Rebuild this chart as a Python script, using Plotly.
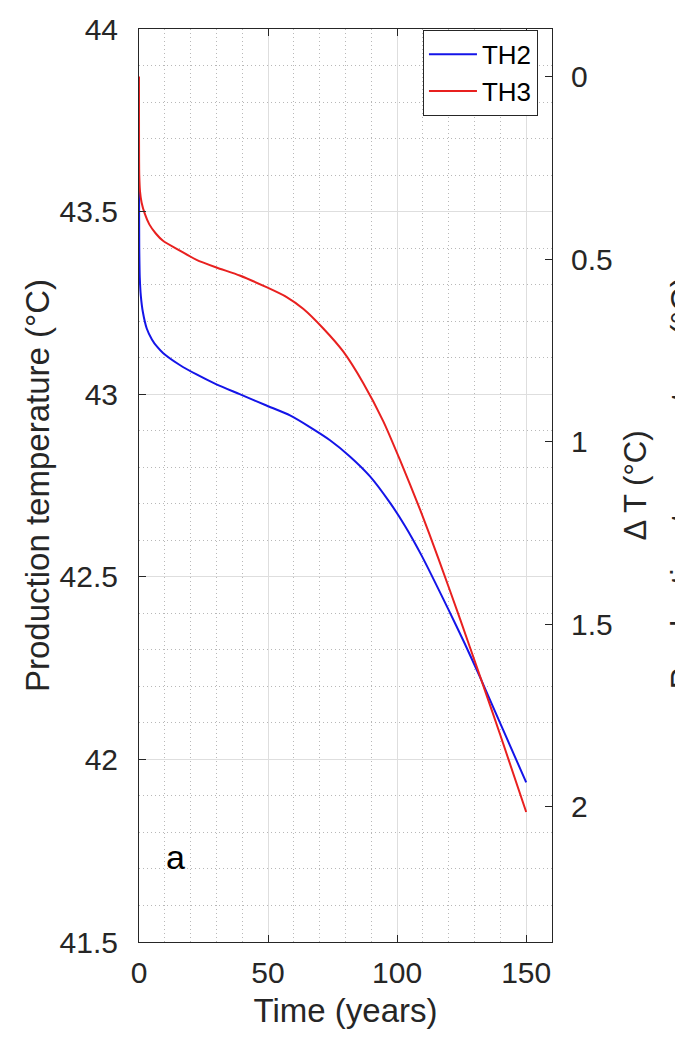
import plotly.graph_objects as go

# Production temperature at the well, two model variants (time in years, T in °C)
time_th2 = [0, 0.1, 0.3, 0.7, 1.5, 3, 5, 7, 9.3, 15.8, 22.3, 30, 39, 49.4,
            58.5, 66.2, 74, 81.8, 89.5, 97.2, 103, 109.5, 119.9, 126, 132.2,
            140, 150]
temp_th2 = [43.575, 43.40, 43.32, 43.27, 43.225, 43.18, 43.15, 43.13, 43.113,
            43.08, 43.054, 43.027, 43.0, 42.969, 42.942, 42.910, 42.874,
            42.829, 42.775, 42.703, 42.64, 42.558, 42.41, 42.32, 42.224,
            42.098, 41.937]

time_th3 = [0, 0.1, 0.4, 1, 2.2, 4, 6.5, 9.3, 15.8, 22.3, 30, 39, 49.4, 57.2,
            63.6, 71.4, 79.1, 86.9, 94.7, 101.1, 108.9, 116, 124.4, 132.2,
            140, 150]
temp_th3 = [43.87, 43.60, 43.555, 43.525, 43.495, 43.465, 43.44, 43.42,
            43.393, 43.368, 43.347, 43.325, 43.293, 43.266, 43.234, 43.180,
            43.117, 43.030, 42.925, 42.82, 42.684, 42.55, 42.384, 42.226,
            42.066, 41.856]

# Reference temperature for the temperature-drop axis (ΔT = T_ref - T)
T_REF = 43.87
T_MIN, T_MAX = 41.5, 44.0
DT_TICKS = [0, 0.5, 1, 1.5, 2]

FONT = "Liberation Sans, Arial, Helvetica, sans-serif"
INK = "#262626"
GRID_MAJOR = "#dedede"
GRID_MINOR = "#b8b8b8"

fig = go.Figure()
fig.add_trace(go.Scatter(x=time_th2, y=temp_th2, mode="lines", name="TH2",
                         line=dict(color="#1414e8", width=2, shape="spline",
                                   smoothing=0.6)))
fig.add_trace(go.Scatter(x=time_th3, y=temp_th3, mode="lines", name="TH3",
                         line=dict(color="#e8201f", width=2, shape="spline",
                                   smoothing=0.6)))
# Temperature drop of TH3 on the right-hand scale (coincides with the TH3 curve)
fig.add_trace(go.Scatter(x=time_th3, y=[T_REF - t for t in temp_th3],
                         yaxis="y2", mode="lines", showlegend=False,
                         hoverinfo="skip", opacity=0,
                         line=dict(color="#e8201f", width=0)))

fig.update_layout(
    width=675, height=1039,
    margin=dict(l=139.3, r=123, t=16.7, b=97.3, pad=0),
    paper_bgcolor="white", plot_bgcolor="white",
    font=dict(family=FONT, color=INK),
    showlegend=True,
    legend=dict(x=0.966, y=0.999, xanchor="right", yanchor="top",
                bgcolor="white", bordercolor=INK, borderwidth=1,
                font=dict(size=26, color="black"), tracegroupgap=0,
                itemwidth=48),
    xaxis=dict(
        range=[0, 160], tickvals=[0, 50, 100, 150], ticks="inside",
        ticklen=7, tickcolor=INK, tickwidth=1,
        showline=True, linecolor=INK, linewidth=1, mirror="ticks",
        showgrid=True, gridcolor=GRID_MAJOR, gridwidth=1, zeroline=False,
        minor=dict(dtick=10, tick0=0, showgrid=True, gridcolor=GRID_MINOR,
                   griddash="1px,3px", gridwidth=1),
        tickfont=dict(size=30, color=INK), ticklabelstandoff=4,
        title=dict(text="Time (years)", font=dict(size=33, color=INK),
                   standoff=10),
    ),
    yaxis=dict(
        range=[T_MIN, T_MAX], dtick=0.5, tick0=41.5, ticks="inside",
        ticklen=7, tickcolor=INK, tickwidth=1,
        showline=True, linecolor=INK, linewidth=1, mirror=True,
        showgrid=True, gridcolor=GRID_MAJOR, gridwidth=1, zeroline=False,
        minor=dict(dtick=0.1, tick0=41.5, showgrid=True, gridcolor=GRID_MINOR,
                   griddash="1px,3px", gridwidth=1),
        tickfont=dict(size=30, color=INK), ticklabelstandoff=14,
        title=dict(text="Production temperature (°C)",
                   font=dict(size=33, color=INK), standoff=0),
    ),
    yaxis2=dict(
        overlaying="y", side="right", anchor="x",
        range=[T_REF - T_MIN, T_REF - T_MAX], tickvals=DT_TICKS,
        ticktext=["0", "0.5", "1", "1.5", "2"],
        ticks="inside", ticklen=7, tickcolor=INK, tickwidth=1,
        showline=True, linecolor=INK, linewidth=1, showgrid=False,
        zeroline=False, tickfont=dict(size=30, color=INK),
        ticklabelstandoff=12,
        title=dict(text="Δ T (°C)", font=dict(size=31, color=INK),
                   standoff=12),
    ),
)

# Panel letter
fig.add_annotation(x=14.2, y=41.734, xref="x", yref="y", text="a",
                   showarrow=False, font=dict(size=34, color="black"))

# Left axis label of the neighbouring panel, cut by the page edge
fig.add_annotation(x=(682 - 139.3) / 412.7, y=0.5024, xref="paper",
                   yref="paper", xanchor="center", yanchor="middle",
                   text="Production temperature (°C)",
                   textangle=-90, showarrow=False,
                   font=dict(size=33, color=INK))

fig.write_html("out.html")
